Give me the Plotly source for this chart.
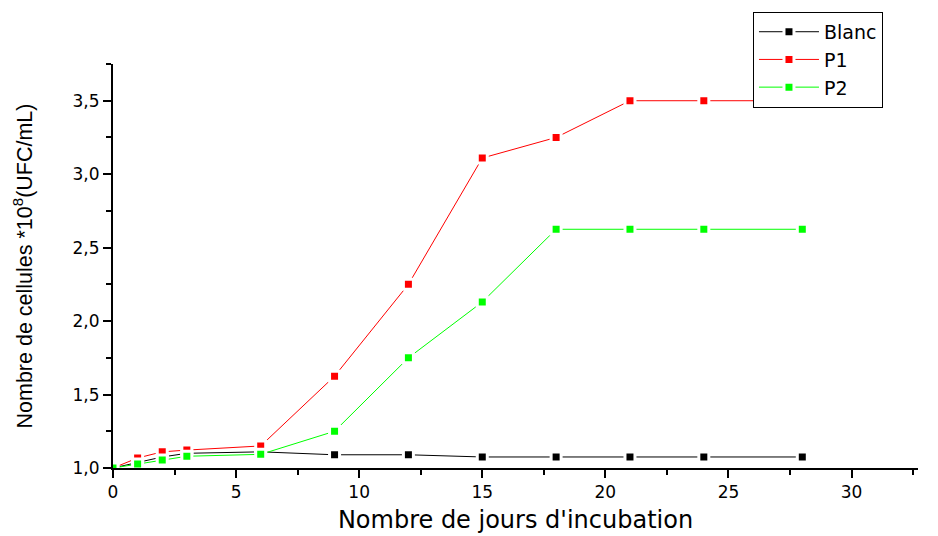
import plotly.graph_objects as go

# Incubation days and cell counts (x10^8 UFC/mL)
jours = [0, 1, 2, 3, 6, 9, 12, 15, 18, 21, 24, 28]
blanc = [1.00, 1.04, 1.075, 1.10, 1.11, 1.09, 1.09, 1.075, 1.075, 1.075, 1.075, 1.075]
p1 = [1.00, 1.068, 1.11, 1.122, 1.15, 1.625, 2.25, 3.11, 3.25, 3.50, 3.50, 3.50]
p2 = [1.00, 1.027, 1.054, 1.08, 1.093, 1.25, 1.75, 2.13, 2.625, 2.625, 2.625, 2.625]

series = [("Blanc", blanc, "#000000"), ("P1", p1, "#ff0000"), ("P2", p2, "#00ff00")]

fig = go.Figure()
for name, vals, col in series:
    fig.add_trace(go.Scatter(
        x=jours, y=vals, name=name, mode="lines+markers",
        line=dict(color=col, width=1),
        marker=dict(symbol="square", size=10, color=col,
                    line=dict(color="white", width=3)),
    ))

font = "Liberation Sans, Arial, sans-serif"
wide = "DejaVu Sans, Verdana, sans-serif"
axis_common = dict(
    showgrid=False, zeroline=False, showline=True, linecolor="black",
    linewidth=2, ticks="outside", ticklen=8, tickwidth=2, tickcolor="black",
    tickfont=dict(family=wide, size=17, color="black"),
    automargin=False,
)

fig.update_layout(
    width=938, height=536,
    margin=dict(l=113, r=20, t=64, b=68),
    paper_bgcolor="white", plot_bgcolor="white",
    separators=",.",
    font=dict(family=font, color="black"),
    xaxis=dict(
        range=[0, 32.7], tickvals=[0, 5, 10, 15, 20, 25, 30],
        minor=dict(tickvals=[2.5, 7.5, 12.5, 17.5, 22.5, 27.5, 32.5],
                   ticks="outside", ticklen=5, tickwidth=2, tickcolor="black"),
        title=dict(text="Nombre de jours d'incubation",
                   font=dict(family=wide, size=24), standoff=10),
        **axis_common,
    ),
    yaxis=dict(
        range=[1.0, 3.75], tickvals=[1.0, 1.5, 2.0, 2.5, 3.0, 3.5],
        tickformat=".1f",
        minor=dict(tickvals=[1.25, 1.75, 2.25, 2.75, 3.25, 3.75],
                   ticks="outside", ticklen=5, tickwidth=2, tickcolor="black"),
        title=dict(text="Nombre de cellules *10<sup>8</sup>(UFC/mL)",
                   font=dict(family=font, size=21.5), standoff=34),
        **axis_common,
    ),
    legend=dict(
        x=0.795, y=1.129, xanchor="left", yanchor="top",
        bgcolor="white", bordercolor="black", borderwidth=1,
        font=dict(family=wide, size=19, color="black"),
        tracegroupgap=0, itemwidth=60,
    ),
    showlegend=True,
)

fig.write_html("out.html")
